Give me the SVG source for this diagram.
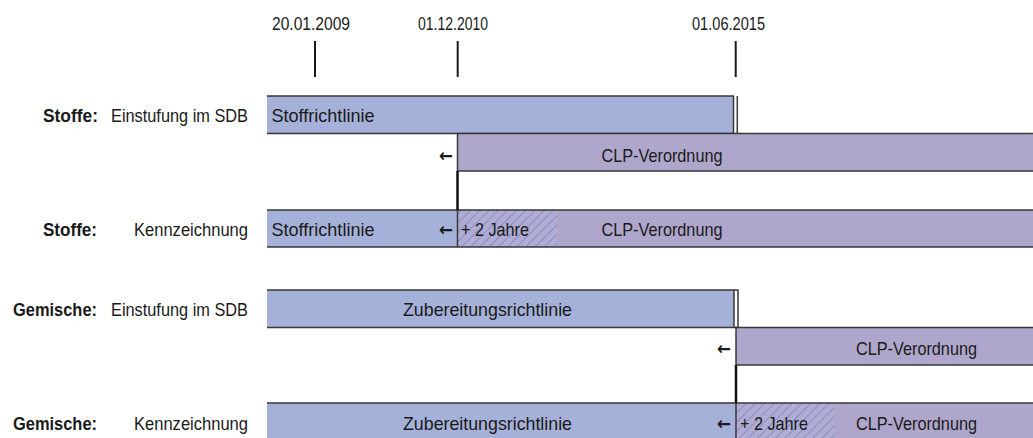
<svg xmlns="http://www.w3.org/2000/svg" width="1033" height="438" viewBox="0 0 1033 438">
<style>
text{font-family:"Liberation Sans",Arial,sans-serif;font-size:18.5px;fill:#1a1a1a}
.b{font-weight:bold}
.m{text-anchor:middle}
.arr{font-family:"DejaVu Sans",sans-serif;font-size:18px;font-weight:bold}
.blue{fill:#a5b1d8}
.purp{fill:#afa6cc}
.edge{stroke:#383838;stroke-width:1.5;fill:none}
.tick{stroke:#1a1a1a;stroke-width:2}
.conn{stroke:#111;stroke-width:2.5}
</style>
<defs>
<pattern id="hatch" patternUnits="userSpaceOnUse" width="6.5" height="6.5" patternTransform="rotate(45)">
<rect width="6.5" height="6.5" fill="#b0acd3"/>
<line x1="0" y1="0" x2="0" y2="6.5" stroke="#5f72b0" stroke-width="1"/>
</pattern>
</defs>
<g id="timeline">
<text class="m" x="311" y="30" textLength="78" lengthAdjust="spacingAndGlyphs">20.01.2009</text>
<text class="m" x="453" y="30" textLength="70" lengthAdjust="spacingAndGlyphs">01.12.2010</text>
<text class="m" x="728.5" y="30" textLength="73" lengthAdjust="spacingAndGlyphs">01.06.2015</text>
<line class="tick" x1="315" y1="41" x2="315" y2="77"/>
<line class="tick" x1="457.7" y1="41" x2="457.7" y2="77"/>
<line class="tick" x1="735.7" y1="41" x2="735.7" y2="77"/>
</g>
<g id="labels">
<text class="b" x="43" y="122" textLength="55" lengthAdjust="spacingAndGlyphs">Stoffe:</text>
<text x="111" y="122" textLength="137" lengthAdjust="spacingAndGlyphs">Einstufung im SDB</text>
<text class="b" x="43" y="236" textLength="54" lengthAdjust="spacingAndGlyphs">Stoffe:</text>
<text x="134" y="236" textLength="114" lengthAdjust="spacingAndGlyphs">Kennzeichnung</text>
<text class="b" x="13" y="316" textLength="84" lengthAdjust="spacingAndGlyphs">Gemische:</text>
<text x="111" y="316" textLength="137" lengthAdjust="spacingAndGlyphs">Einstufung im SDB</text>
<text class="b" x="13" y="430" textLength="84" lengthAdjust="spacingAndGlyphs">Gemische:</text>
<text x="134" y="430" textLength="114" lengthAdjust="spacingAndGlyphs">Kennzeichnung</text>
</g>
<g id="row1">
<rect class="blue" x="267" y="96" width="466.5" height="37.5"/>
<path class="edge" d="M267,96 H734 M267,133.5 H734 M733.5,96 V133.5 M737.3,96 V133.5"/>
<text x="271.5" y="122" textLength="103" lengthAdjust="spacingAndGlyphs">Stoffrichtlinie</text>
</g>
<g id="row2">
<rect class="purp" x="457.5" y="133.5" width="576" height="37.5"/>
<path class="edge" d="M1033,133.5 H457.5 V171 H1033"/>
<text class="arr" x="439" y="162" textLength="14" lengthAdjust="spacingAndGlyphs">←</text>
<text x="601.5" y="162" textLength="121" lengthAdjust="spacingAndGlyphs">CLP-Verordnung</text>
</g>
<g id="row3">
<rect class="blue" x="267" y="210" width="190.5" height="37"/>
<rect fill="url(#hatch)" x="457.5" y="210" width="99.5" height="37"/>
<rect class="purp" x="557" y="210" width="476" height="37"/>
<path class="edge" d="M267,210 H1033 M267,247 H1033 M457.5,210 V247"/>
<text x="271.5" y="236" textLength="103" lengthAdjust="spacingAndGlyphs">Stoffrichtlinie</text>
<text class="arr" x="439" y="236" textLength="14" lengthAdjust="spacingAndGlyphs">←</text>
<text x="461" y="236" textLength="68" lengthAdjust="spacingAndGlyphs">+ 2 Jahre</text>
<text x="601.5" y="236" textLength="121" lengthAdjust="spacingAndGlyphs">CLP-Verordnung</text>
</g>
<g id="row4">
<rect class="blue" x="267" y="290" width="467" height="37.5"/>
<path class="edge" d="M267,290 H738.5 M267,327.5 H738.5 M734,290 V327.5 M738,290 V327.5"/>
<text x="403" y="316" textLength="169" lengthAdjust="spacingAndGlyphs">Zubereitungsrichtlinie</text>
</g>
<g id="row5">
<rect class="purp" x="736" y="327.5" width="297" height="37.5"/>
<path class="edge" d="M1033,327.5 H736 V365 H1033"/>
<text class="arr" x="717" y="355" textLength="14" lengthAdjust="spacingAndGlyphs">←</text>
<text x="856" y="355" textLength="121" lengthAdjust="spacingAndGlyphs">CLP-Verordnung</text>
</g>
<g id="row6">
<rect class="blue" x="267" y="403" width="469" height="37"/>
<rect fill="url(#hatch)" x="736" y="403" width="98" height="37"/>
<rect class="purp" x="834" y="403" width="199" height="37"/>
<path class="edge" d="M267,403 H1033 M736,403 V440"/>
<text x="403" y="430" textLength="169" lengthAdjust="spacingAndGlyphs">Zubereitungsrichtlinie</text>
<text class="arr" x="717" y="430" textLength="14" lengthAdjust="spacingAndGlyphs">←</text>
<text x="740" y="430" textLength="68" lengthAdjust="spacingAndGlyphs">+ 2 Jahre</text>
<text x="856" y="430" textLength="121" lengthAdjust="spacingAndGlyphs">CLP-Verordnung</text>
</g>
<g id="connectors">
<line class="conn" x1="457.5" y1="171" x2="457.5" y2="210"/>
<line class="conn" x1="736" y1="365" x2="736" y2="403"/>
</g>
</svg>
